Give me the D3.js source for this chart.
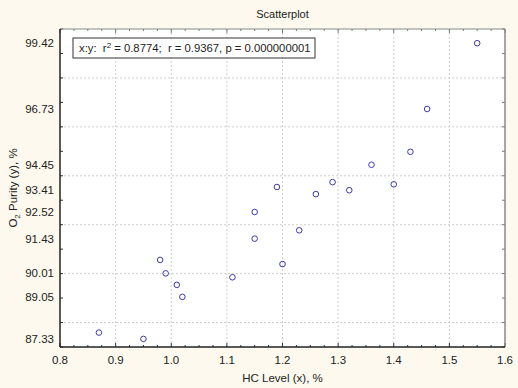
<!DOCTYPE html>
<html>
<head>
<meta charset="utf-8">
<script src="https://cdn.jsdelivr.net/npm/d3@7"></script>
<style>
  body { margin: 0; background: #fdf9ee; }
  svg text { font-family: "Liberation Sans", Arial, sans-serif; fill: #222; white-space: pre; }
</style>
</head>
<body>
<div id="chart"></div>
<script>
var hcLevel = [0.99, 1.02, 1.15, 1.29, 1.46, 1.36, 0.87, 1.23, 1.55, 1.40,
               1.19, 1.15, 0.98, 1.01, 1.11, 1.20, 1.26, 1.32, 1.43, 0.95];
var purity  = [90.01, 89.05, 91.43, 93.74, 96.73, 94.45, 87.59, 91.77, 99.42, 93.65,
               93.54, 92.52, 90.56, 89.54, 89.85, 90.39, 93.25, 93.41, 94.98, 87.33];
var yLabels = [87.33, 89.05, 90.01, 91.43, 92.52, 93.41, 94.45, 96.73, 99.42];
var xLabels = [0.8, 0.9, 1.0, 1.1, 1.2, 1.3, 1.4, 1.5, 1.6];
var yGrid = [88, 90, 92, 94, 96, 98];

var W = 518, H = 388;
var margin = {top: 29, right: 13, bottom: 41, left: 60},
    width = W - margin.left - margin.right,
    height = H - margin.top - margin.bottom;

var svg = d3.select("#chart").append("svg")
    .attr("width", W)
    .attr("height", H);

var g = svg.append("g")
    .attr("transform", "translate(" + margin.left + "," + margin.top + ")");

var x = d3.scaleLinear().domain([0.8, 1.6]).range([0, width]);
var y = d3.scaleLinear().domain([87, 100]).range([height, 0]);

// plot area
g.append("rect")
    .attr("width", width)
    .attr("height", height)
    .attr("fill", "#fff");

// grid
g.selectAll(".vgrid")
    .data(xLabels.slice(1, -1))
  .enter().append("line")
    .attr("x1", d => x(d)).attr("x2", d => x(d))
    .attr("y1", 0).attr("y2", height)
    .attr("stroke", "#cfcfcf")
    .attr("stroke-dasharray", "2,2");

g.selectAll(".hgrid")
    .data(yGrid)
  .enter().append("line")
    .attr("y1", d => y(d)).attr("y2", d => y(d))
    .attr("x1", 0).attr("x2", width)
    .attr("stroke", "#cfcfcf")
    .attr("stroke-dasharray", "2,2");

// inner ticks: bottom / top
var xMinor = d3.range(0.8, 1.6001, 0.025);
function xTicks(yPos, dir, col) {
  g.selectAll(null)
      .data(xMinor)
    .enter().append("line")
      .attr("x1", d => x(d)).attr("x2", d => x(d))
      .attr("y1", yPos)
      .attr("y2", (d, i) => yPos + dir * (i % 4 === 0 ? 4 : 2))
      .attr("stroke", col);
}
xTicks(height, -1, "#333");
xTicks(0, 1, "#777");

var yMinor = d3.range(87, 100.001, 1);
function yTicks(xPos, dir, col) {
  g.selectAll(null)
      .data(yMinor)
    .enter().append("line")
      .attr("y1", d => y(d)).attr("y2", d => y(d))
      .attr("x1", xPos)
      .attr("x2", xPos + dir * 3)
      .attr("stroke", col);
}
yTicks(0, 1, "#333");
yTicks(width, -1, "#777");

// frame
g.append("line").attr("x1", 0).attr("x2", width).attr("y1", 0).attr("y2", 0).attr("stroke", "#888");
g.append("line").attr("x1", width).attr("x2", width).attr("y1", 0).attr("y2", height).attr("stroke", "#888").attr("stroke-width", 1.5);
g.append("line").attr("x1", 0).attr("x2", width).attr("y1", height).attr("y2", height).attr("stroke", "#222").attr("stroke-width", 1.5);
g.append("line").attr("x1", 0).attr("x2", 0).attr("y1", 0).attr("y2", height).attr("stroke", "#222").attr("stroke-width", 1.5);

// x tick labels
g.selectAll(".xlab")
    .data(xLabels)
  .enter().append("text")
    .attr("x", d => x(d))
    .attr("y", height + 17)
    .attr("text-anchor", "middle")
    .attr("font-size", 11.5)
    .text(d => d.toFixed(1));

// y tick labels (at data values)
g.selectAll(".ylab")
    .data(yLabels)
  .enter().append("text")
    .attr("x", -6)
    .attr("y", d => y(d))
    .attr("dy", "0.35em")
    .attr("text-anchor", "end")
    .attr("font-size", 11.5)
    .text(d => d.toFixed(2));

// points
g.selectAll(".pt")
    .data(hcLevel)
  .enter().append("circle")
    .attr("cx", d => x(d))
    .attr("cy", (d, i) => y(purity[i]))
    .attr("r", 2.8)
    .attr("fill", "none")
    .attr("stroke", "#3a3aa8")
    .attr("stroke-width", 1);

// stats box
var box = g.append("g").attr("transform", "translate(13,9)");
box.append("rect")
    .attr("width", 242)
    .attr("height", 20)
    .attr("fill", "#fff")
    .attr("stroke", "#333");
var st = box.append("text")
    .attr("x", 6)
    .attr("y", 14)
    .attr("font-size", 11.3);
st.append("tspan").text("x:y:  r");
st.append("tspan").attr("dy", -4).attr("font-size", 8).text("2");
st.append("tspan").attr("dy", 4).text(" = 0.8774;  r = 0.9367, p = 0.000000001");

// title
svg.append("text")
    .attr("x", margin.left + width / 2)
    .attr("y", 18)
    .attr("text-anchor", "middle")
    .attr("font-size", 11)
    .text("Scatterplot");

// x axis title
svg.append("text")
    .attr("x", margin.left + width / 2)
    .attr("y", 382)
    .attr("text-anchor", "middle")
    .attr("font-size", 11.5)
    .text("HC Level (x), %");

// y axis title
var yt = svg.append("text")
    .attr("transform", "translate(17," + (margin.top + height / 2) + ") rotate(-90)")
    .attr("text-anchor", "middle")
    .attr("font-size", 11.5);
yt.append("tspan").text("O");
yt.append("tspan").attr("dy", 3).attr("font-size", 8).text("2");
yt.append("tspan").attr("dy", -3).text(" Purity (y), %");
</script>
</body>
</html>
